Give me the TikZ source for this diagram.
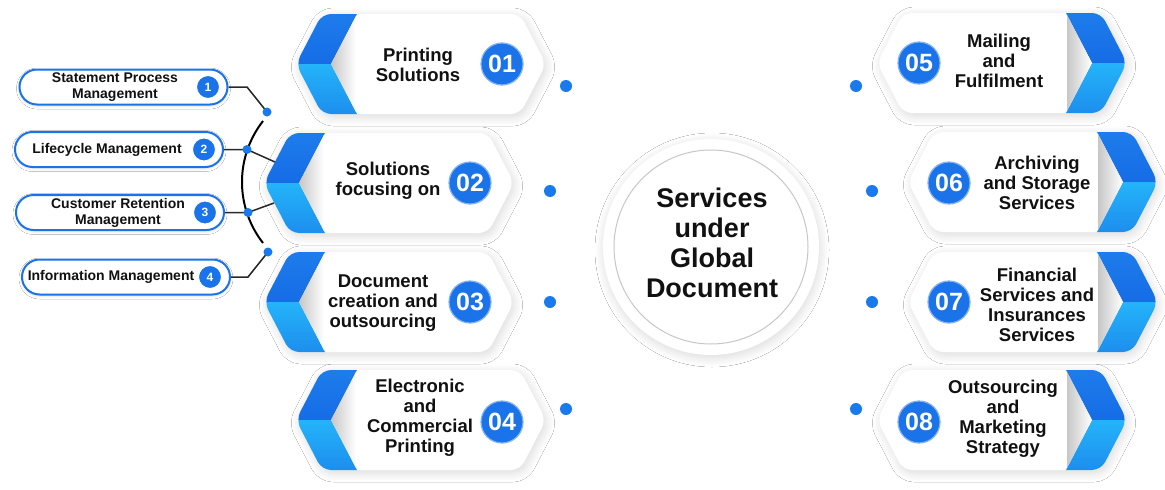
\documentclass[tikz,border=0pt]{standalone}
\usepackage{fontspec}
\setmainfont{Liberation Sans}
\usetikzlibrary{shapes.misc,shadows.blur}
\definecolor{btop}{RGB}{30,126,236}
\definecolor{bdark}{RGB}{22,108,230}
\definecolor{blight}{RGB}{36,180,250}
\definecolor{bmid}{RGB}{28,138,236}
\definecolor{numblue}{RGB}{26,115,232}
\definecolor{dotblue}{RGB}{24,122,236}
\definecolor{txt}{RGB}{17,17,17}
\definecolor{conncol}{RGB}{40,40,40}
\newcommand\lhexshape[2]{%
  \fill[white, rounded corners=9, blur shadow={shadow xshift=2pt, shadow yshift=-3pt, shadow blur radius=9pt, shadow blur steps=14, shadow opacity=15}]
    (#1,#2) -- ({#1+26},{#2-50}) -- ({#1+224},{#2-50}) -- ({#1+250},#2) -- ({#1+224},{#2+50}) -- ({#1+26},{#2+50}) -- cycle;
  \begin{scope}
    \clip[rounded corners=9] (#1,#2) -- ({#1+26},{#2-50}) -- ({#1+224},{#2-50}) -- ({#1+250},#2) -- ({#1+224},{#2+50}) -- ({#1+26},{#2+50}) -- cycle;
    \shade[top color=btop, bottom color=bdark] ({#1-5},{#2-55}) -- ({#1+63.6},{#2-55}) -- ({#1+35},#2) -- ({#1-5},#2) -- cycle;
    \shade[top color=blight, bottom color=bmid] ({#1-5},#2) -- ({#1+35},#2) -- ({#1+63.6},{#2+55}) -- ({#1-5},{#2+55}) -- cycle;
    \shade[left color=black!22, right color=white] ({#1+35},#2) -- ({#1+60},{#2-48}) -- ({#1+60},{#2+48}) -- cycle;
  \end{scope}}
\newcommand\rhexshape[2]{%
  \begin{scope}[shift={({#1+250},0)}, xscale=-1]\lhexshape{0}{#2}\end{scope}}
\begin{document}
\begin{tikzpicture}[x=1pt,y=-1pt,
  hextext/.style={align=center, text=txt, font=\fontsize{18.5}{20}\selectfont\bfseries, inner sep=0},
  numc/.style={circle, fill=numblue, draw=numblue!55, line width=1.2, minimum size=42, inner sep=0, text=white, font=\fontsize{25}{25}\selectfont\bfseries},
  bigdot/.style={circle, fill=dotblue, minimum size=12, inner sep=0},
  smalldot/.style={circle, fill=dotblue, minimum size=9, inner sep=0},
  pill/.style={rounded rectangle, draw=numblue, line width=2, fill=white, minimum width=208, minimum height=35, inner sep=0, blur shadow={shadow xshift=0pt, shadow yshift=-1.5pt, shadow blur radius=3pt, shadow opacity=12}},
  pilltext/.style={align=center, text=txt, font=\fontsize{14}{16}\selectfont\bfseries, inner sep=0},
  pnum/.style={circle, fill=numblue, draw=white, line width=1, minimum size=23, inner sep=0, text=white, font=\fontsize{12}{12}\selectfont\bfseries},
  conn/.style={draw=conncol, line width=1.5},
  centertext/.style={align=center, text=txt, font=\fontsize{27}{30}\selectfont\bfseries, inner sep=0}]
\useasboundingbox (0,0) rectangle (1165,490);
\fill[white] (0,0) rectangle (1165,490);

% hexagons left
\lhexshape{296}{64}
\lhexshape{264}{183}
\lhexshape{264}{302}
\lhexshape{296}{420}
% hexagons right
\rhexshape{877}{63}
\rhexshape{908}{182}
\rhexshape{908}{302}
\rhexshape{877}{420}

% left texts
\node[hextext] (t1) at (418,65) {Printing\\Solutions};
\node[numc] (n1) at (502,64) {01};
\node[hextext] (t2) at (388,181) {Solutions\\focusing on};
\node[numc] (n2) at (470,183) {02};
\node[hextext] (t3) at (383,303) {Document\\creation and\\outsourcing};
\node[numc] (n3) at (470,302) {03};
\node[hextext] (t4) at (420,418) {Electronic\\and\\Commercial\\Printing};
\node[numc] (n4) at (502,422) {04};
% right texts
\node[hextext] (t5) at (999,61) {Mailing\\and\\Fulfilment};
\node[numc] (n5) at (919,63) {05};
\node[hextext] (t6) at (1037,183) {Archiving\\and Storage\\Services};
\node[numc] (n6) at (949,183) {06};
\node[hextext] (t7) at (1037,305) {Financial\\Services and\\Insurances\\Services};
\node[numc] (n7) at (949,302) {07};
\node[hextext] (t8) at (1003,419) {Outsourcing\\and\\Marketing\\Strategy};
\node[numc] (n8) at (919,422) {08};

% dots
\node[bigdot] (d1) at (566,86) {};
\node[bigdot] (d2) at (550,191) {};
\node[bigdot] (d3) at (550,302) {};
\node[bigdot] (d4) at (566,409) {};
\node[bigdot] (d5) at (856,86) {};
\node[bigdot] (d6) at (872,191) {};
\node[bigdot] (d7) at (872,302) {};
\node[bigdot] (d8) at (856,409) {};

% center circle
\node[circle, fill=white, minimum size=216, inner sep=0, blur shadow={shadow xshift=1pt, shadow yshift=-3pt, shadow blur radius=9pt, shadow blur steps=14, shadow opacity=15}] (c) at (711,247) {};
\node[circle, draw=black!22, line width=1, minimum size=194, inner sep=0] (cin) at (711,247) {};
\node[centertext] (ct) at (712,243) {Services\\under\\Global\\Document};

% arc
\draw[black, line width=2] plot[domain=142:218, samples=50] ({341+99*cos(\x)}, {182-99*sin(\x)});

% pills
\node[pill] (p1) at (123.5,87) {};
\node[pill] (p2) at (119,149.5) {};
\node[pill] (p3) at (120,212.5) {};
\node[pill] (p4) at (126,277) {};
\node[pilltext] (pt1) at (115,87) {Statement Process\\Management};
\node[pilltext] (pt2) at (107,149.5) {Lifecycle Management};
\node[pilltext] (pt3) at (118,212.5) {Customer Retention\\Management};
\node[pilltext] (pt4) at (111,277) {Information Management};
\node[pnum] (q1) at (208,87) {1};
\node[pnum] (q2) at (204,149.5) {2};
\node[pnum] (q3) at (205,212.5) {3};
\node[pnum] (q4) at (210,277) {4};

% connector points
\coordinate (b1) at (247,87);
\coordinate (b4) at (248,277);
\coordinate (h2a) at (275,162);
\coordinate (h2b) at (274,203);
\coordinate (s1c) at (267,112);
\coordinate (s2c) at (247,149.5);
\coordinate (s3c) at (248,212.5);
\coordinate (s4c) at (268,252);

\draw[conn] (p1.east) -- (b1) -- (s1c);
\draw[conn] (p2.east) -- (s2c) -- (h2a);
\draw[conn] (p3.east) -- (s3c) -- (h2b);
\draw[conn] (p4.east) -- (b4) -- (s4c);

\node[smalldot] (s1) at (s1c) {};
\node[smalldot] (s2) at (s2c) {};
\node[smalldot] (s3) at (s3c) {};
\node[smalldot] (s4) at (s4c) {};
\end{tikzpicture}
\end{document}
